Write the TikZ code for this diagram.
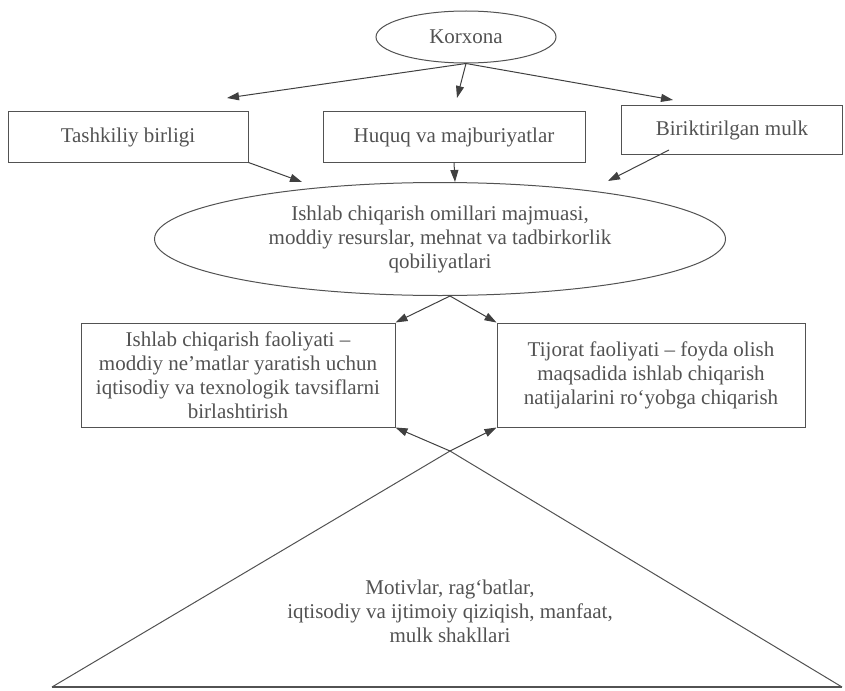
\documentclass[tikz,border=0pt]{standalone}
\usepackage{fontspec}
\setmainfont{Liberation Serif}
\usetikzlibrary{arrows.meta,shapes.geometric}

\begin{document}
\begin{tikzpicture}[x=1pt, y=-1pt, line width=1pt, color=black!68,
		txt/.style={font=\fontsize{21}{24}\selectfont, align=center},
		oval/.style={txt, draw, ellipse, inner sep=0pt},
		box/.style={txt, draw, rectangle, inner sep=0pt},
		arr/.style={draw=black!75, -{Triangle[length=12pt, width=8pt]}}]
		%%%%% START %%%%%
		
		\useasboundingbox (0,0) rectangle (845,690);
		
		\node[oval, minimum width=180pt, minimum height=52pt] (korxona) at (466,37) {Korxona};
		
		\node[box, minimum width=240pt, minimum height=50pt] (tash) at (128,137) {Tashkiliy birligi};
		\node[box, minimum width=262pt, minimum height=50pt] (huquq) at (454,137) {Huquq va majburiyatlar};
		\node[box, minimum width=221pt, minimum height=49pt] (birik) at (732,130) {Biriktirilgan mulk};
		
		\coordinate (tashin) at (227,98);
		\coordinate (huquqin) at (457,98);
		\coordinate (birikin) at (673,100);
		\draw[arr] (korxona.south) -- (tashin);
		\draw[arr] (korxona.south) -- (huquqin);
		\draw[arr] (korxona.south) -- (birikin);
		
		\node[oval, minimum width=571pt, minimum height=113pt] (omil) at (440,239)
			{Ishlab chiqarish omillari majmuasi,\\ moddiy resurslar, mehnat va tadbirkorlik\\ qobiliyatlari};
		
		\coordinate (omilin1) at (302,182);
		\coordinate (omilin2) at (455,182);
		\coordinate (omilin3) at (608,181);
		\draw[arr] (tash.south east) -- (omilin1);
		\draw[arr] (huquq.south) -- (omilin2);
		\draw[arr] ([xshift=48pt,yshift=5pt]birik.south west) -- (omilin3);
		
		\node[box, minimum width=314pt, minimum height=104pt] (ishlab) at (238,375)
			{Ishlab chiqarish faoliyati –\\ moddiy ne’matlar yaratish uchun\\ iqtisodiy va texnologik tavsiflarni\\ birlashtirish};
		\node[box, minimum width=308pt, minimum height=104pt] (tijorat) at (651,375)
			{Tijorat faoliyati – foyda olish\\ maqsadida ishlab chiqarish\\ natijalarini ro‘yobga chiqarish};
		
		\draw[arr] ([xshift=10pt]omil.south) -- (ishlab.north east);
		\draw[arr] ([xshift=10pt]omil.south) -- (tijorat.north west);
		
		% motivlar uchburchagi
		\coordinate (apex) at (450,451);
		\coordinate (baseL) at (52,687);
		\coordinate (baseR) at (842,687);
		\draw (baseL) -- (apex) -- (baseR);
		\draw[line width=1.8pt] (baseL) -- (baseR);
		\node[txt] (motiv) at (450,611) {Motivlar, rag‘batlar,\\ iqtisodiy va ijtimoiy qiziqish, manfaat,\\ mulk shakllari};
		
		\draw[arr] (apex) -- (ishlab.south east);
		\draw[arr] (apex) -- (tijorat.south west);
		
		%%%%% END %%%%%
\end{tikzpicture}
\end{document}
